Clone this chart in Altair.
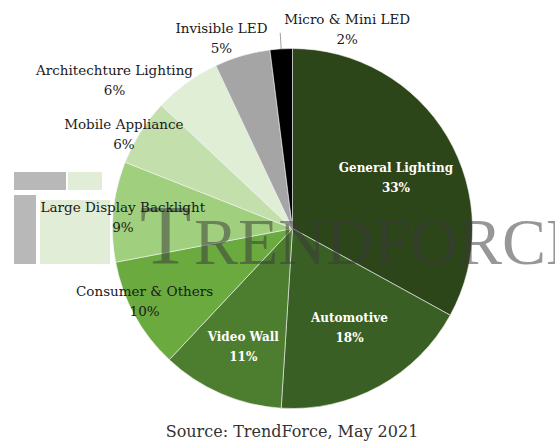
import math
import altair as alt
import pandas as pd

# ---- data ----
categories = ["General Lighting", "Automotive", "Video Wall", "Consumer & Others",
              "Large Display Backlight", "Mobile Appliance", "Architechture Lighting",
              "Invisible LED", "Micro & Mini LED"]
shares = [33, 18, 11, 10, 9, 6, 6, 5, 2]
pct_labels = ["33%", "18%", "11%", "10%", "9%", "6%", "6%", "5%", "2%"]
colors = ["#2c4519", "#3a5f24", "#4d7e2f", "#6aaa3f", "#a0cf7d",
          "#c3e0ac", "#e0eed6", "#a5a5a5", "#000000"]
label_colors = ["#ffffff", "#ffffff", "#ffffff", "#1a1a1a", "#1a1a1a",
                "#1a1a1a", "#1a1a1a", "#1a1a1a", "#1a1a1a"]
# label layout: distance from centre (px) and angular nudge (deg) from slice middle
label_radius = [115, 115, 128, 165, 170, 193, 231, 202, 206]
label_nudge = [4.7, -0.9, -0.8, 2.5, -1.7, -3.3, -14.4, -4.4, 19.0]

CX, CY, R = 292.5, 228.5, 180

rows = []
cum = 0
for i, (c, s) in enumerate(zip(categories, shares)):
    mid = 2 * math.pi * (cum + s / 2) / sum(shares)
    ang = mid + math.radians(label_nudge[i])
    rows.append(dict(idx=i, category=c, share=s, pct=pct_labels[i],
                     lcolor=label_colors[i], ang=ang, lr=label_radius[i],
                     inside=(i < 3), mid=mid))
    cum += s
df = pd.DataFrame(rows)
one = pd.DataFrame({"k": [0]})

# leader line for the smallest slice
m = df.iloc[-1]["mid"]
lead = pd.DataFrame([dict(x1=CX + R * math.sin(m), y1=CY - R * math.cos(m),
                          x2=CX + 196 * math.sin(m), y2=CY - 196 * math.cos(m))])

arcs = alt.Chart(df).mark_arc(outerRadius=R, stroke="#f4f4f4", strokeWidth=0.6).encode(
    theta=alt.Theta("share:Q", stack=True),
    color=alt.Color("category:N", scale=alt.Scale(domain=categories, range=colors), legend=None),
    order=alt.Order("idx:Q"),
    x=alt.value(CX), y=alt.value(CY),
)

wm_T = alt.Chart(one).mark_text(
    text="T", font="Liberation Serif", fontSize=84, align="left",
    baseline="alphabetic", color="#3a3a3a", opacity=0.52,
).encode(x=alt.value(140), y=alt.value(264))
wm_rest = alt.Chart(one).mark_text(
    text="RENDFORCE", font="Liberation Serif", fontSize=66, align="left",
    baseline="alphabetic", color="#3a3a3a", opacity=0.52,
).encode(x=alt.value(194), y=alt.value(264))

logo_rects = pd.DataFrame([
    dict(x=14, x2=66, y=172, y2=190, c="#9a9a9a"),
    dict(x=68, x2=102, y=172, y2=190, c="#d6e6c6"),
    dict(x=14, x2=36, y=195, y2=264, c="#9a9a9a"),
    dict(x=40, x2=110, y=200, y2=264, c="#d6e6c6"),
])
logo = alt.Chart(logo_rects).mark_rect(opacity=0.7).encode(
    x=alt.X("x:Q", scale=None), x2="x2:Q",
    y=alt.Y("y:Q", scale=None), y2="y2:Q",
    color=alt.Color("c:N", scale=None),
)

def label_layer(field, dy, inside):
    sub = df[df["inside"] == inside]
    return alt.Chart(sub).mark_text(
        font="DejaVu Serif", fontSize=(12 if inside else 13.5),
        fontWeight=("bold" if inside else "normal"), dy=dy, baseline="middle",
    ).encode(
        theta=alt.Theta("ang:Q", scale=None, stack=None),
        radius=alt.Radius("lr:Q", scale=None),
        text=f"{field}:N",
        color=alt.Color("lcolor:N", scale=None),
        x=alt.value(CX), y=alt.value(CY),
    )

labels = [label_layer("category", -10, w) for w in (True, False)] + \
         [label_layer("pct", 10, w) for w in (True, False)]

leader = alt.Chart(lead).mark_rule(color="#888888", strokeWidth=0.8).encode(
    x=alt.X("x1:Q", scale=None), y=alt.Y("y1:Q", scale=None), x2="x2:Q", y2="y2:Q",
)

source = alt.Chart(one).mark_text(
    text="Source: TrendForce, May 2021", font="DejaVu Serif", fontSize=16,
    color="#333333", align="center", baseline="middle",
).encode(x=alt.value(292), y=alt.value(432))

chart = alt.layer(logo, arcs, wm_T, wm_rest, leader, *labels, source).properties(
    width=555, height=444, autosize="none", padding=0,
).configure_view(stroke=None)

chart.save("out.html", embed_options={"renderer": "svg", "actions": False})
